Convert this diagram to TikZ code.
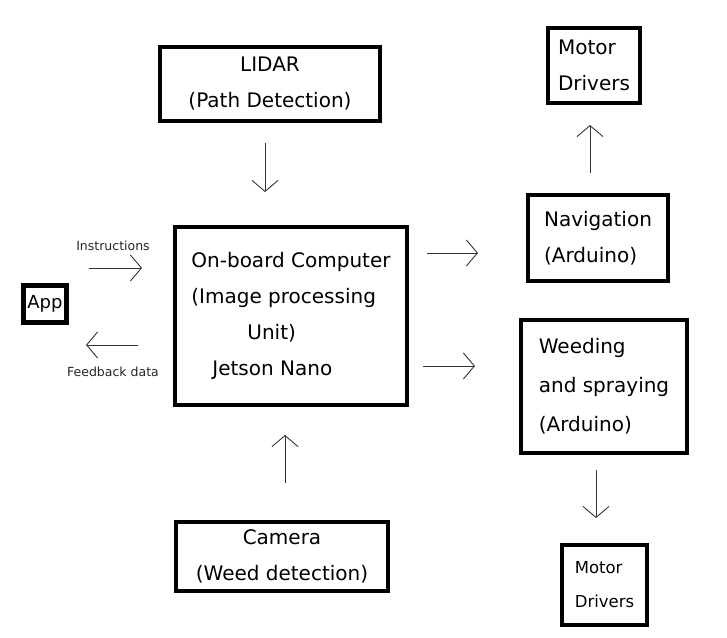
\documentclass[tikz,border=0pt]{standalone}
\usepackage{fontspec}
\setmainfont{DejaVu Sans}
\usetikzlibrary{arrows.meta}
\begin{document}
\begin{tikzpicture}[x=1pt,y=-1pt,
  unitbox/.style={draw, line width=4pt, inner sep=0pt, font=\fontsize{20}{36}\selectfont},
  flow/.style={draw=black!80, line width=0.9pt, -{Straight Barb[length=11pt,width=26pt,line width=0.9pt]}},
  tag/.style={font=\fontsize{12.5}{15}\selectfont, text=black!85}]
\useasboundingbox (0,0) rectangle (727,637);
% Blocks
%-----------------------------------------------------------%
% sensors
  \node[unitbox, minimum width=220pt, minimum height=74pt, align=center] (lidar) at (270,84) {LIDAR\\(Path Detection)};
  \node[unitbox, minimum width=212pt, minimum height=69pt, align=center] (camera) at (282,556.5) {Camera\\(Weed detection)};
% on-board computer
  \node[unitbox, minimum width=232pt, minimum height=178pt, align=left] (cpu) at (291,316)
    {On-board Computer\\(Image processing\\\hspace*{2.8em}Unit)\\\hspace*{1.05em}Jetson Nano};
% app
  \node[unitbox, line width=5pt, minimum width=43pt, minimum height=37pt, font=\fontsize{18}{22}\selectfont] (app) at (45,304) {App};
% controllers
  \node[unitbox, minimum width=140pt, minimum height=86pt, align=left] (nav) at (598,238) {Navigation\\(Arduino)};
  \node[unitbox, minimum width=166pt, minimum height=133pt, align=left, font=\fontsize{20}{39}\selectfont] (weed) at (604,386.5) {Weeding\\and spraying\\(Arduino)};
% motor drivers
  \node[unitbox, minimum width=92pt, minimum height=75pt, align=left] (motorA) at (594,65.5) {Motor\\Drivers};
  \node[unitbox, minimum width=85pt, minimum height=80pt, align=left, font=\fontsize{16.5}{34}\selectfont] (motorB) at (604.5,585) {Motor\\Drivers};
%-----------------------------------------------------------%
% Arrow ends
  \coordinate (inA) at (89,268);   \coordinate (inB) at (142,268);
  \coordinate (fbA) at (138,345);  \coordinate (fbB) at (86,345);
  \coordinate (ldA) at (265,143);  \coordinate (ldB) at (265,192);
  \coordinate (cmA) at (285,483);  \coordinate (cmB) at (285,435);
  \coordinate (nvA) at (427,253);  \coordinate (nvB) at (478,253);
  \coordinate (wdA) at (423,366);  \coordinate (wdB) at (475,366);
  \coordinate (maA) at (590,173);  \coordinate (maB) at (590,125);
  \coordinate (mbA) at (596,470);  \coordinate (mbB) at (596,518);
% Arrows
  \foreach \a/\b in {inA/inB,fbA/fbB,ldA/ldB,cmA/cmB,nvA/nvB,wdA/wdB,maA/maB,mbA/mbB}
    { \draw[flow] (\a) -- (\b);}
% arrow labels
  \node[tag] (instr) at (113,246) {Instructions};
  \node[tag] (fback) at (113,372) {Feedback data};
\end{tikzpicture}
\end{document}
